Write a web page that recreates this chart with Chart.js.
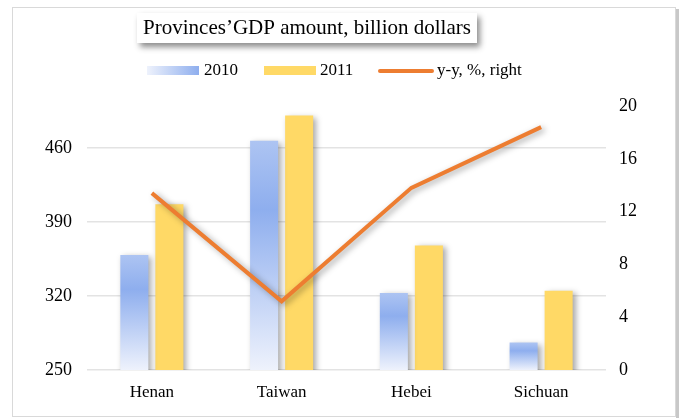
<!DOCTYPE html>
<html>
<head>
<meta charset="utf-8">
<script src="https://cdn.jsdelivr.net/npm/chart.js@4/dist/chart.umd.min.js"></script>
<style>
  html, body { margin: 0; padding: 0; background: #fff; }
  #wrap { width: 683px; height: 418px; position: relative; }
</style>
</head>
<body>
<div id="wrap"><canvas id="c"></canvas></div>
<script>
var provinces = ["Henan", "Taiwan", "Hebei", "Sichuan"];
var gdp2010 = [359, 467, 323, 276];
var gdp2011 = [407, 491, 368, 325];
var yoy = [13.4, 5.2, 13.8, 18.4];
var leftTicks = [250, 320, 390, 460];
var rightTicks = [0, 4, 8, 12, 16, 20];

var serif = "'Liberation Serif', 'Times New Roman', serif";

// vertical gradient for each 2010 bar, from its own top to its base
function blueFill(context) {
  var chart = context.chart;
  var ys = chart.scales.y;
  if (!ys || context.raw == null) return "#8eaeee";
  var top = ys.getPixelForValue(context.raw);
  var bot = ys.getPixelForValue(leftTicks[0]);
  if (!isFinite(top) || !isFinite(bot) || bot - top < 1) return "#8eaeee";
  var g = chart.ctx.createLinearGradient(0, top, 0, bot);
  g.addColorStop(0, "#adc4f2");
  g.addColorStop(0.3, "#8eaeee");
  g.addColorStop(1, "#eef2fc");
  return g;
}

var frame = {
  id: "frame",
  beforeDraw: function (chart) {
    var ctx = chart.ctx;
    ctx.save();
    ctx.fillStyle = "#fff";
    ctx.fillRect(0, 0, chart.width, chart.height);
    ctx.strokeStyle = "#d9d9d9";
    ctx.lineWidth = 1;
    ctx.strokeRect(12.5, 7.5, 663, 409);
    ctx.fillStyle = "#c8c8c8";
    ctx.fillRect(676, 9, 3, 409);
    ctx.restore();
  },
  beforeDatasetsDraw: function (chart) {
    var ctx = chart.ctx;
    ctx.save();
    ctx.shadowColor = "rgba(0,0,0,0.35)";
    ctx.shadowBlur = 6;
    ctx.shadowOffsetX = 3;
    ctx.shadowOffsetY = 2;
  },
  afterDatasetsDraw: function (chart) {
    chart.ctx.restore();
  },
  afterDraw: function (chart) {
    var ctx = chart.ctx;
    ctx.save();
    // title box
    ctx.shadowColor = "rgba(0,0,0,0.45)";
    ctx.shadowBlur = 6;
    ctx.shadowOffsetX = 3;
    ctx.shadowOffsetY = 4;
    ctx.fillStyle = "#fff";
    ctx.fillRect(137, 13, 340, 30);
    ctx.shadowColor = "transparent";
    ctx.fillStyle = "#000";
    ctx.font = "21px " + serif;
    ctx.textAlign = "center";
    ctx.textBaseline = "middle";
    ctx.fillText("Provinces\u2019GDP amount, billion dollars", 307, 28);

    // legend
    var ds = chart.data.datasets;
    ctx.font = "17px " + serif;
    ctx.textAlign = "left";
    var lg = ctx.createLinearGradient(147, 0, 199, 0);
    lg.addColorStop(0, "#eef2fc");
    lg.addColorStop(1, "#8eaeee");
    ctx.fillStyle = lg;
    ctx.fillRect(147, 66, 52, 9);
    ctx.fillStyle = "#000";
    ctx.fillText(ds[1].label, 204, 71);
    ctx.fillStyle = "#ffd966";
    ctx.fillRect(264, 66, 52, 9);
    ctx.fillStyle = "#000";
    ctx.fillText(ds[2].label, 320, 71);
    ctx.strokeStyle = "#ed7d31";
    ctx.lineWidth = 4;
    ctx.lineCap = "round";
    ctx.beginPath();
    ctx.moveTo(380, 71);
    ctx.lineTo(432, 71);
    ctx.stroke();
    ctx.fillText(ds[0].label, 437, 71);
    ctx.restore();
  }
};

new Chart(document.getElementById("c"), {
  type: "bar",
  data: {
    labels: provinces,
    datasets: [
      {
        type: "line",
        label: "y-y, %, right",
        data: yoy,
        yAxisID: "y1",
        borderColor: "#ed7d31",
        borderWidth: 4,
        pointRadius: 0,
        tension: 0,
        order: 0
      },
      {
        label: "2010",
        data: gdp2010,
        yAxisID: "y",
        backgroundColor: blueFill,
        order: 1
      },
      {
        label: "2011",
        data: gdp2011,
        yAxisID: "y",
        backgroundColor: "#ffd966",
        order: 1
      }
    ]
  },
  options: {
    responsive: true,
    maintainAspectRatio: false,
    animation: false,
    layout: { padding: { top: 106, left: 0, right: 0, bottom: 0 } },
    datasets: { bar: { categoryPercentage: 0.54, barPercentage: 0.8 } },
    plugins: { legend: { display: false }, title: { display: false }, tooltip: { enabled: false } },
    scales: {
      x: {
        grid: { display: false },
        border: { display: false },
        ticks: { color: "#000", font: { family: serif, size: 17 }, padding: 4 },
        afterFit: function (s) { s.height = 48; }
      },
      y: {
        position: "left",
        min: 250,
        max: 500,
        border: { display: false },
        grid: { color: "#e3e3e3", lineWidth: 1.5, drawTicks: false },
        ticks: { color: "#000", font: { family: serif, size: 18 }, padding: 15 },
        afterBuildTicks: function (s) { s.ticks = leftTicks.map(function (v) { return { value: v }; }); },
        afterFit: function (s) { s.width = 87; }
      },
      y1: {
        position: "right",
        min: 0,
        max: 20,
        border: { display: false },
        grid: { display: false, drawTicks: false },
        ticks: { color: "#000", font: { family: serif, size: 18 }, padding: 13 },
        afterBuildTicks: function (s) { s.ticks = rightTicks.map(function (v) { return { value: v }; }); },
        afterFit: function (s) { s.width = 77; }
      }
    }
  },
  plugins: [frame]
});
</script>
</body>
</html>
